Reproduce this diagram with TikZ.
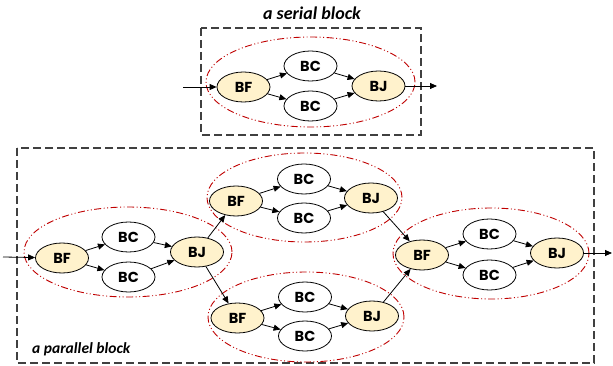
\documentclass[tikz,border=0pt]{standalone}
\usepackage{fontspec}
\setmainfont{Carlito}
\newfontfamily\nodefont{Poppins}
\usetikzlibrary{shapes.geometric,arrows.meta}
\definecolor{tan}{HTML}{FFF2CC}
\definecolor{grpred}{HTML}{C00000}
\definecolor{boxgray}{HTML}{404040}
\tikzset{
  nd/.style={ellipse,draw=black,line width=0.8pt,minimum width=53pt,minimum height=30pt,inner sep=0pt,font=\nodefont\bfseries\fontsize{14.5}{14.5}\selectfont},
  fj/.style={nd,fill=tan},
  bc/.style={nd,fill=white},
  grp/.style={ellipse,draw=grpred,line width=0.9pt,inner sep=0pt,
    dash pattern=on 7pt off 2.5pt on 1pt off 2.5pt on 1pt off 2.5pt},
  blk/.style={draw=boxgray,line width=1.1pt,dash pattern=on 8pt off 4pt},
  arr/.style={-{Triangle[length=7pt,width=6pt]},line width=0.8pt,black},
  ttl/.style={font=\bfseries\itshape,inner sep=0pt}
}
\begin{document}
\begin{tikzpicture}[x=1pt,y=-1pt]
\fill[white] (0,0) rectangle (613,366);
\useasboundingbox (0,0) rectangle (613,366);
% serial block
\draw[blk] (201,28) rectangle (421,135);
\node[ttl,font=\bfseries\itshape\fontsize{18}{18}\selectfont] (ts) at (312,13) {a serial block};
\node[grp,minimum width=209pt,minimum height=90pt] (gs) at (310.5,82) {};
\node[fj] (sbf) at (243.5,87) {BF};
\node[bc] (sbc1) at (310.5,66) {BC};
\node[bc] (sbc2) at (310.5,106) {BC};
\node[fj] (sbj) at (378.5,86) {BJ};
\coordinate (sin) at (183,87);
\coordinate (sout) at (437,86);
\draw[arr] (sin) -- (sbf);
\draw[arr] (sbf) -- (sbc1);
\draw[arr] (sbf) -- (sbc2);
\draw[arr] (sbc1) -- (sbj);
\draw[arr] (sbc2) -- (sbj);
\draw[arr] (sbj) -- (sout);
% parallel block
\draw[blk] (17,148) rectangle (594,363);
\node[ttl,anchor=west,font=\bfseries\itshape\fontsize{15.5}{15.5}\selectfont] (tp) at (32,349) {a parallel block};
\node[grp,minimum width=208pt,minimum height=90pt] (g1) at (128,252) {};
\node[grp,minimum width=195pt,minimum height=89pt] (g2) at (304.5,197.5) {};
\node[grp,minimum width=196pt,minimum height=90pt] (g3) at (306,317) {};
\node[grp,minimum width=196pt,minimum height=91pt] (g4) at (491,253.5) {};
% group 1
\node[fj] (bf1) at (62,258) {BF};
\node[bc] (bc1a) at (128.5,237) {BC};
\node[bc] (bc1b) at (128.5,277) {BC};
\node[fj] (bj1) at (197,252) {BJ};
% group 2
\node[fj] (bf2) at (236,201) {BF};
\node[bc] (bc2a) at (304,179) {BC};
\node[bc] (bc2b) at (304,218) {BC};
\node[fj] (bj2) at (371,198) {BJ};
% group 3
\node[fj] (bf3) at (237.5,318) {BF};
\node[bc] (bc3a) at (305,297) {BC};
\node[bc] (bc3b) at (305,336) {BC};
\node[fj] (bj3) at (372,316) {BJ};
% group 4
\node[fj] (bf4) at (422,255) {BF};
\node[bc] (bc4a) at (489.5,234) {BC};
\node[bc] (bc4b) at (489.5,275) {BC};
\node[fj] (bj4) at (557,253) {BJ};
\coordinate (pin) at (3,257);
\coordinate (pout) at (612,253);
\draw[arr] (pin) -- (bf1);
\foreach \g in {1,2,3,4}{
  \draw[arr] (bf\g) -- (bc\g a);
  \draw[arr] (bf\g) -- (bc\g b);
  \draw[arr] (bc\g a) -- (bj\g);
  \draw[arr] (bc\g b) -- (bj\g);
}
\draw[arr] (bj1) -- (bf2);
\draw[arr] (bj1) -- (bf3);
\draw[arr] (bj2) -- (bf4);
\draw[arr] (bj3) -- (bf4);
\draw[arr] (bj4) -- (pout);
\end{tikzpicture}
\end{document}
